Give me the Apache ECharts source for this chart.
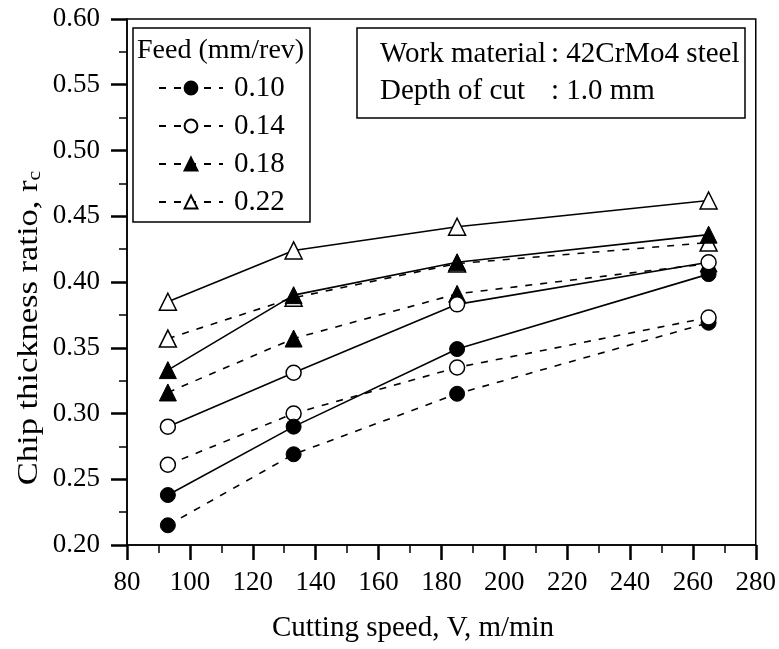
<!DOCTYPE html>
<html>
<head>
<meta charset="utf-8">
<script src="https://cdn.jsdelivr.net/npm/echarts@6/dist/echarts.min.js"></script>
<style>
html,body{margin:0;padding:0;background:#fff;}
#chart{width:779px;height:649px;}
</style>
</head>
<body>
<div id="chart"></div>
<script>
// Cutting speed values (m/min)
const speeds = [93, 133, 185, 265];
const feeds = ['0.10', '0.14', '0.18', '0.22'];
const xTicks = [80, 100, 120, 140, 160, 180, 200, 220, 240, 260, 280];
const yTicks = [0.20, 0.25, 0.30, 0.35, 0.40, 0.45, 0.50, 0.55, 0.60];

// Solid-line series (chip thickness ratio)
const solid010 = [0.238, 0.290, 0.349, 0.406];
const solid014 = [0.290, 0.331, 0.383, 0.415];
const solid018 = [0.333, 0.390, 0.415, 0.436];
const solid022 = [0.385, 0.424, 0.442, 0.462];

// Dashed-line series (chip thickness ratio)
const dashed010 = [0.215, 0.269, 0.315, 0.369];
const dashed014 = [0.261, 0.300, 0.335, 0.373];
const dashed018 = [0.316, 0.357, 0.391, 0.414];
const dashed022 = [0.357, 0.388, 0.414, 0.430];

const FONT = "'Liberation Serif', 'Times New Roman', serif";
const markers = [
  {symbol: 'circle', filled: true, size: 15},
  {symbol: 'circle', filled: false, size: 15},
  {symbol: 'triangle', filled: true, size: 17},
  {symbol: 'triangle', filled: false, size: 17}
];
const solidSets = [solid010, solid014, solid018, solid022];
const dashedSets = [dashed010, dashed014, dashed018, dashed022];

function pairs(vals) { return speeds.map((s, i) => [s, vals[i]]); }
function itemStyleFor(m) {
  return m.filled
    ? {color: '#000', borderColor: '#000', borderWidth: 1}
    : {color: '#fff', borderColor: '#000', borderWidth: 1.5};
}
function makeSeries(name, vals, m, dashed) {
  return {
    name: name,
    type: 'line',
    data: pairs(vals),
    symbol: m.symbol,
    symbolSize: m.size,
    showAllSymbol: true,
    lineStyle: {color: '#000', width: 1.6, type: dashed ? [7, 8] : 'solid'},
    itemStyle: itemStyleFor(m),
    emphasis: {disabled: true},
    animation: false
  };
}

const series = [];
feeds.forEach((f, k) => series.push(makeSeries(f, dashedSets[k], markers[k], true)));
feeds.forEach((f, k) => series.push(makeSeries(f + ' ', solidSets[k], markers[k], false)));

const chart = echarts.init(document.getElementById('chart'), null, {renderer: 'canvas'});
chart.setOption({
  backgroundColor: '#fff',
  animation: false,
  grid: {left: 127, right: 23, top: 19, bottom: 104, show: true, borderColor: '#000', borderWidth: 1.5, backgroundColor: 'transparent'},
  xAxis: {
    type: 'value', min: xTicks[0], max: xTicks[xTicks.length - 1], interval: 20,
    axisLine: {show: true, lineStyle: {color: '#000', width: 1.5}},
    axisTick: {show: true, inside: false, length: 15, lineStyle: {color: '#000', width: 2.5}},
    minorTick: {show: true, splitNumber: 2, length: 8, lineStyle: {color: '#000', width: 1.5}},
    splitLine: {show: false},
    axisLabel: {color: '#000', fontFamily: FONT, fontSize: 27, margin: 24, showMinLabel: true, showMaxLabel: true}
  },
  yAxis: {
    type: 'value', min: yTicks[0], max: yTicks[yTicks.length - 1], interval: 0.05,
    axisLine: {show: true, lineStyle: {color: '#000', width: 1.5}},
    axisTick: {show: true, inside: false, length: 16, lineStyle: {color: '#000', width: 2.5}},
    minorTick: {show: true, splitNumber: 2, length: 8, lineStyle: {color: '#000', width: 1.5}},
    splitLine: {show: false},
    axisLabel: {color: '#000', fontFamily: FONT, fontSize: 27, margin: 27, formatter: v => v.toFixed(2)}
  },
  legend: {
    data: feeds,
    orient: 'vertical',
    left: 158, top: 73, padding: 0,
    itemWidth: 64, itemHeight: 16, itemGap: 8,
    textStyle: {color: '#000', fontFamily: FONT, fontSize: 29, lineHeight: 30, padding: [0, 0, 0, 6]},
    selectedMode: false
  },
  graphic: [
    {type: 'rect', shape: {x: 133, y: 28, width: 177, height: 194}, style: {fill: 'rgba(0,0,0,0)', stroke: '#000', lineWidth: 1.5}, z: 10},
    {type: 'text', x: 137, y: 51, style: {text: 'Feed (mm/rev)', fill: '#000', font: "28px " + FONT, textAlign: 'left', textVerticalAlign: 'middle'}, z: 10},
    {type: 'rect', shape: {x: 357, y: 28, width: 388, height: 90}, style: {fill: 'rgba(0,0,0,0)', stroke: '#000', lineWidth: 1.5}, z: 10},
    {type: 'text', x: 380, y: 54, style: {text: 'Work material', fill: '#000', font: "29px " + FONT, textAlign: 'left', textVerticalAlign: 'middle'}, z: 10},
    {type: 'text', x: 551, y: 54, style: {text: ': 42CrMo4 steel', fill: '#000', font: "29px " + FONT, textAlign: 'left', textVerticalAlign: 'middle'}, z: 10},
    {type: 'text', x: 380, y: 91, style: {text: 'Depth of cut', fill: '#000', font: "29px " + FONT, textAlign: 'left', textVerticalAlign: 'middle'}, z: 10},
    {type: 'text', x: 551, y: 91, style: {text: ': 1.0 mm', fill: '#000', font: "29px " + FONT, textAlign: 'left', textVerticalAlign: 'middle'}, z: 10},
    {type: 'text', x: 413, y: 628, style: {text: 'Cutting speed, V, m/min', fill: '#000', font: "29px " + FONT, textAlign: 'center', textVerticalAlign: 'middle'}, z: 10},
    {type: 'text', x: 29, y: 328, rotation: Math.PI / 2, scaleX: 1.15,
      style: {text: 'Chip thickness ratio, r{s|c}', fill: '#000', font: "30px " + FONT, textAlign: 'center', textVerticalAlign: 'middle',
        rich: {s: {fontSize: 19, fontFamily: FONT, fill: '#000', verticalAlign: 'bottom', padding: [12, 0, 0, 0]}}}, z: 10}
  ],
  series: series
});
</script>
</body>
</html>
